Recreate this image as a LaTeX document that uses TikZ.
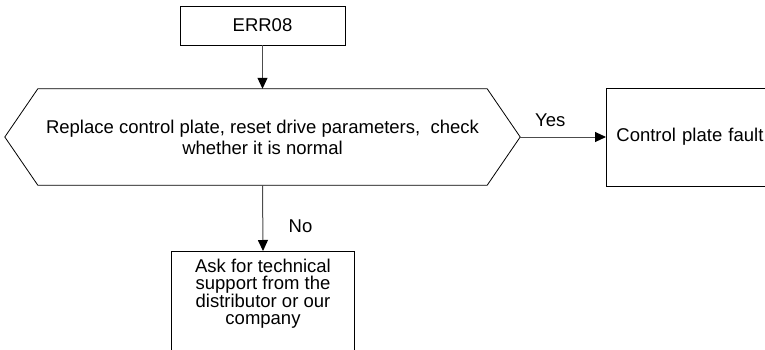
\documentclass[tikz,border=0pt]{standalone}
\usepackage{fontspec}
\setmainfont{Liberation Sans}
\usetikzlibrary{arrows.meta,calc}

\tikzset{
  box/.style={draw, line width=0.8pt, align=center, inner xsep=10pt},
  flow/.style={->, draw=black!70, line width=1pt}
}

\begin{document}
\begin{tikzpicture}[>={Triangle[length=11pt,width=10pt,black]}, x=1pt, y=-1pt,
  font=\fontsize{18.5}{21}\selectfont]
\useasboundingbox (0,0) rectangle (765,350);

% Inici
\node[box, minimum width=165pt, minimum height=39pt] (err) at (262.5,25.5) {ERR08};

% Comprovacio
\node[minimum width=515pt, minimum height=96pt, align=center] (chk) at (262.5,137)
  {Replace control plate, reset drive parameters,~~check\\whether it is normal};
\draw[line width=0.8pt]
  ($(chk.north west)+(33pt,0)$) -- ($(chk.north east)+(-33pt,0)$) -- (chk.east)
  -- ($(chk.south east)+(-33pt,0)$) -- ($(chk.south west)+(33pt,0)$) -- (chk.west) -- cycle;

% Resultats
\node[box, anchor=west, minimum height=98pt, text width=185pt, align=left] (fault)
  at (606,137) {Control plate fault};
\node[anchor=north, minimum width=182pt, align=center, inner ysep=8pt,
  font=\fontsize{18.5}{17}\selectfont] (ask) at (263,251)
  {Ask for technical\\support from the\\distributor or our\\company};
\draw[line width=0.8pt] (ask.north west) rectangle ($(ask.south east)+(0,-40pt)$);

% Fletxes
\draw[flow] (err) -- (chk.north);
\draw[flow] (chk.east) -- (fault.west) node[pos=0.35, above=6pt, text=black] {Yes};
\draw[flow] (chk.south) -- (ask.north) node[pos=0.62, right=22pt, text=black] {No};

\end{tikzpicture}
\end{document}
